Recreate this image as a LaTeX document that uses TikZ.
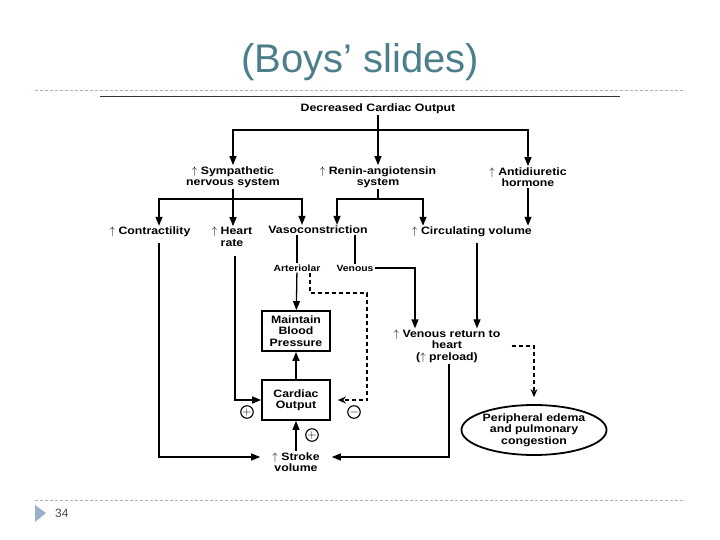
\documentclass[tikz,border=0pt]{standalone}
\usepackage{fontspec}
\setmainfont{Liberation Sans}
\newfontfamily\diagfont[FakeStretch=1.15]{Liberation Sans}
\usepackage{xcolor}
\usepackage{tikz}
\usetikzlibrary{
	arrows.meta,
	shapes.geometric,
	calc
}
\definecolor{titlecol}{RGB}{76,127,139}
\definecolor{rulecol}{RGB}{170,180,190}
\definecolor{tricol}{RGB}{154,176,200}
\newcommand{\up}{{\normalfont$\uparrow$}}
\tikzset{
	lbl/.style={font=\diagfont\bfseries\fontsize{10.7}{11.5}\selectfont, align=center, inner sep=1pt},
	sml/.style={lbl, font=\diagfont\bfseries\fontsize{9}{10}\selectfont},
	box/.style={lbl, draw, line width=1.8pt, minimum width=68pt, minimum height=40pt},
	arr/.style={line width=1.3pt, -{Triangle[length=9pt,width=7pt]}},
	ln/.style={line width=1.3pt},
	dsh/.style={line width=1.1pt, dash pattern=on 4pt off 3pt},
	sgn/.style={circle, draw, line width=1.1pt, inner sep=0pt, minimum size=12.5pt, font=\bfseries\fontsize{12}{12}\selectfont}
}

\begin{document}
\begin{tikzpicture}[x=1pt,y=-1pt]
		\useasboundingbox (0,0) rectangle (720,540);
		\node[text=titlecol, font=\fontsize{40}{42}\selectfont] (ttl) at (360,62) {(Boys’ slides)};
		\draw[rulecol, dash pattern=on 3pt off 2pt] (35,90) -- (685,90);
		\draw[black!80, line width=1pt] (100,97) -- (620,97);
		\draw[rulecol, dash pattern=on 3pt off 2pt] (35,500) -- (685,500);
		\fill[tricol] (35,505) -- (46,513) -- (35,522) -- cycle;
		\node[text=black!70, font=\fontsize{12}{12}\selectfont, anchor=west, inner sep=0pt] (pg) at (55,513) {34};

		\node[lbl] (dco) at (378,109) {Decreased Cardiac Output};
		\node[lbl] (sns) at (233,177) {\up\ Sympathetic\\nervous system};
		\node[lbl] (ras) at (378,177) {\up\ Renin-angiotensin\\system};
		\node[lbl] (adh) at (528,177) {\up\ Antidiuretic\\hormone};
		\node[lbl] (con) at (150,232) {\up\ Contractility};
		\node[lbl] (hr) at (232,237) {\up\ Heart\\rate};
		\node[lbl] (vaso) at (318,230) {Vasoconstriction};
		\node[lbl] (cv) at (472,232) {\up\ Circulating volume};
		\node[sml] (art) at (297,268) {Arteriolar};
		\node[sml] (ven) at (355,268) {Venous};
		\node[box] (mbp) at (296,331) {Maintain\\Blood\\Pressure};
		\node[box] (cob) at (296,400) {Cardiac\\Output};
		\node[lbl, inner xsep=12pt] (sv) at (296,462) {\up\ Stroke\\volume};
		\node[lbl] (vr) at (447,346) {\up\ Venous return to\\heart\\(\up\ preload)};
		\node[lbl, ellipse, draw, line width=1.8pt, minimum width=127pt, minimum height=50pt, inner sep=0pt] (pe) at (534,430) {Peripheral edema\\and pulmonary\\congestion};
		\node[sgn] (p1) at (247,412) {$+$};
		\node[sgn] (m1) at (354,412) {$-$};
		\node[sgn] (p2) at (312,435) {$+$};

		\coordinate (b0) at (378,130);
		\coordinate (b1) at (233,199);
		\coordinate (b2) at (378,199);
		\coordinate (dk) at (367,293);
		\draw[arr] (dco) -- (ras);
		\draw[arr] (b0) -| (sns);
		\draw[arr] (b0) -| (adh);
		\draw[ln] (sns.south) -- (b1);
		\draw[arr] (b1) -| ([xshift=9pt]con.north);
		\draw[arr] (b1) -- (b1 |- hr.north);
		\draw[arr] (b1) -| ([xshift=-16pt]vaso.north);
		\draw[ln] (ras.south) -- (b2);
		\draw[arr] (b2) -| ([xshift=19pt]vaso.north);
		\draw[arr] (b2) -| ([xshift=-49pt]cv.north);
		\draw[arr] (adh.south) -- (adh.south |- cv.north);
		\draw[ln] (art.north |- vaso.south) -- (art.north);
		\draw[ln] (ven.north |- vaso.south) -- (ven.north);
		\draw[arr, shorten <=5pt] ([xshift=9pt]con.south) |- ([yshift=5pt]sv.west);
		\draw[arr, shorten <=8pt] ([xshift=3pt]hr.south) |- (cob.west);
		\draw[arr] (art) -- (mbp);
		\draw[arr] (cob) -- (mbp);
		\draw[arr] (sv) -- (cob);
		\draw[dsh, -{Stealth[length=8pt,width=7pt]}] ([xshift=13pt]art.south) |- (dk) |- ([xshift=7pt]cob.east);
		\draw[arr] (ven.east) -| ([xshift=-32pt]vr.north);
		\draw[arr, shorten <=5pt] ([xshift=5pt]cv.south) -- ([xshift=30pt]vr.north);
		\draw[arr] ([xshift=2pt]vr.south) |- ([yshift=5pt]sv.east);
		\draw[dsh, -{Stealth[length=8pt,width=7pt]}] ([xshift=10pt]vr.east) -| ([yshift=7pt]pe.north);
	\end{tikzpicture}
\end{document}
